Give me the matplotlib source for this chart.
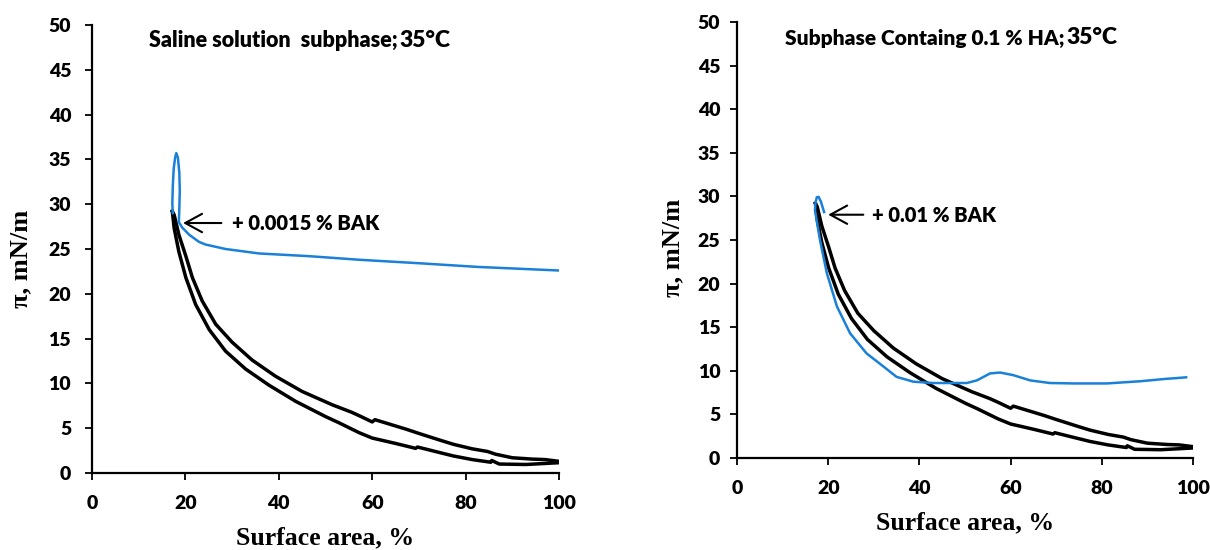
import matplotlib
matplotlib.use('Agg')
import matplotlib.pyplot as plt

# pure subphase loop (compression / expansion), same in both panels
upper_x = [17.2, 17.6, 18.6, 20.1, 21.5, 23.6, 26.5, 30.0, 34.3, 39.3, 45.0, 51.5, 55.5, 57.2,
           60.0, 60.6, 67.2, 70.1, 74.3, 77.4, 81.4, 84.7, 86.4, 90.0, 94.3, 97.0, 100.0]
upper_y = [29.2, 28.8, 26.6, 24.2, 21.8, 19.2, 16.6, 14.6, 12.6, 10.8, 9.1, 7.6, 6.8, 6.4,
           5.7, 5.95, 4.9, 4.4, 3.7, 3.2, 2.7, 2.4, 2.1, 1.7, 1.55, 1.5, 1.3]
lower_x = [17.2, 17.6, 18.6, 20.1, 22.2, 25.1, 28.6, 32.9, 37.9, 43.6, 50.0, 52.9, 57.2,
           60.0, 65.0, 69.3, 69.7, 74.3, 77.4, 81.4, 85.4, 85.6, 87.2, 92.9, 100.0]
lower_y = [29.2, 27.3, 24.7, 21.8, 18.8, 16.0, 13.6, 11.6, 9.8, 8.0, 6.3, 5.6, 4.5,
           3.9, 3.3, 2.75, 2.9, 2.3, 1.9, 1.5, 1.2, 1.4, 1.0, 0.95, 1.15]

# + 0.0015 % BAK, saline subphase
bak1_x = [17.3, 17.2, 17.3, 17.5, 17.8, 18.05, 18.4, 18.7, 18.8, 18.7, 18.6, 19.3, 20.8, 22.9,
          24.3, 28.6, 35.8, 46.5, 57.2, 70.4, 82.6, 100.0]
bak1_y = [29.0, 30.1, 32.0, 34.0, 35.2, 35.7, 35.2, 33.5, 31.5, 29.5, 28.0, 27.4, 26.6, 25.8,
          25.5, 25.0, 24.5, 24.2, 23.8, 23.4, 23.0, 22.6]

# + 0.01 % BAK, subphase with 0.1 % HA
bak2_x = [19.1, 18.4, 17.9, 17.5, 17.2, 17.1, 18.2, 19.7, 21.9, 24.8, 28.4, 32.1, 35.0, 38.7,
          43.0, 50.4, 52.6, 55.5, 57.7, 60.6, 64.3, 68.6, 73.8, 81.1, 88.4, 93.5, 98.5]
bak2_y = [28.2, 29.4, 29.95, 29.9, 29.2, 28.4, 25.0, 21.2, 17.4, 14.3, 12.0, 10.5, 9.3, 8.75,
          8.6, 8.6, 8.9, 9.7, 9.8, 9.5, 8.9, 8.6, 8.55, 8.55, 8.8, 9.05, 9.25]

BLUE = '#1a80d8'
SANS = 'Lato'
SERIF = 'Liberation Serif'

fig = plt.figure(figsize=(12.1, 5.5), dpi=100)
ax1 = fig.add_axes([92 / 1210, 1 - 473 / 550, 467 / 1210, 448 / 550])
ax2 = fig.add_axes([737 / 1210, 1 - 458 / 550, 456 / 1210, 436 / 550])


def style_axes(ax, ypad):
    for s in ['top', 'right']:
        ax.spines[s].set_visible(False)
    for s in ['left', 'bottom']:
        ax.spines[s].set_linewidth(1.6)
    ax.set_xlim(0, 100)
    ax.set_ylim(0, 50)
    ax.set_xticks(range(0, 101, 20))
    ax.set_yticks(range(0, 51, 5))
    ax.tick_params(axis='y', direction='out', length=5, width=1.3, pad=ypad)
    ax.tick_params(axis='x', direction='out', length=5, width=1.3, pad=11)
    for lab in ax.get_xticklabels() + ax.get_yticklabels():
        lab.set_fontfamily(SANS)
        lab.set_fontweight('heavy')
        lab.set_fontsize(14)
    ax.set_xlabel('Surface area, %', fontfamily=SERIF, fontweight='bold',
                  fontsize=18.5, labelpad=10)
    ax.set_ylabel('π, mN/m', fontfamily=SERIF, fontweight='bold', fontsize=19)


for ax in (ax1, ax2):
    ax.plot(upper_x, upper_y, color='black', lw=2.5, solid_joinstyle='round')
    ax.plot(lower_x, lower_y, color='black', lw=2.5, solid_joinstyle='round')

ax1.plot(bak1_x, bak1_y, color=BLUE, lw=1.8)
ax2.plot(bak2_x, bak2_y, color=BLUE, lw=1.8)

style_axes(ax1, 10)
style_axes(ax2, 7)
ax1.yaxis.set_label_coords(-0.128, 0.478)
ax2.yaxis.set_label_coords(-0.116, 0.482)


def heading(ax, x, y, txt, size):
    t = ax.text(x, y, txt, fontfamily=SANS, fontweight='heavy', fontsize=size,
                va='baseline', ha='left')
    ax.annotate('35°C', xy=(1, 0), xycoords=t, xytext=(1, 0), textcoords='offset points',
                fontfamily=SANS, fontweight='heavy', fontsize=16.5, va='bottom', ha='left')


heading(ax1, 12.2, 47.6, 'Saline solution  subphase;', 15.5)
heading(ax2, 10.6, 47.4, 'Subphase Containg 0.1 % HA;', 15)

# arrows pointing at the BAK curves
arrow = dict(arrowstyle='->, head_length=0.55, head_width=0.3', color='black', lw=1.5,
             mutation_scale=22, shrinkA=0, shrinkB=0)
ax1.annotate('', xy=(19.5, 27.9), xytext=(27.7, 27.9), arrowprops=arrow)
ax1.text(30.0, 27.8, '+ 0.0015 % BAK', fontfamily=SANS, fontweight='heavy',
         fontsize=14.5, va='center', ha='left')
ax2.annotate('', xy=(20.0, 27.9), xytext=(27.7, 27.9), arrowprops=arrow)
ax2.text(29.5, 27.8, '+ 0.01 % BAK', fontfamily=SANS, fontweight='heavy',
         fontsize=14.5, va='center', ha='left')

plt.savefig('out.png', dpi=100)
plt.close()
